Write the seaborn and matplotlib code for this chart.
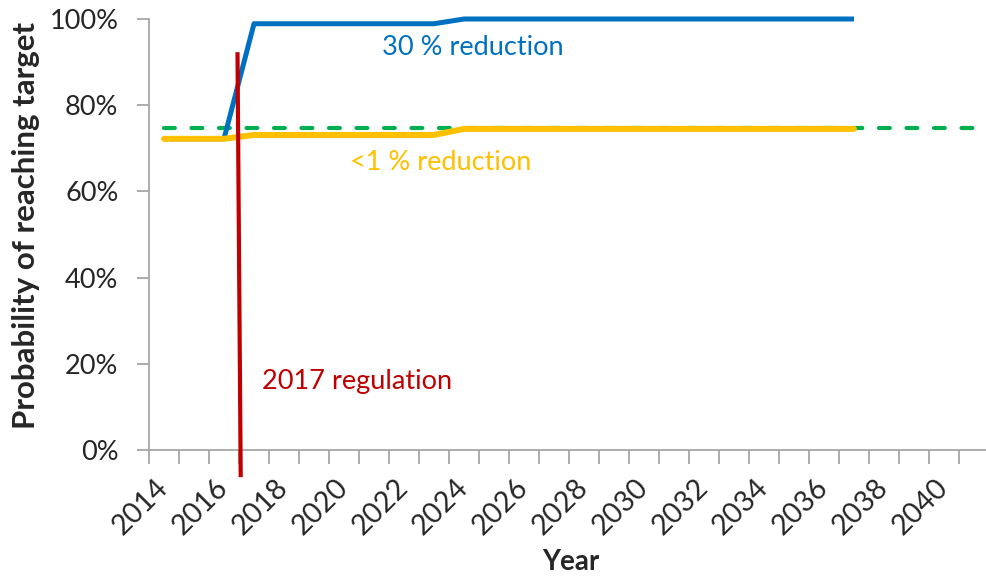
import matplotlib
matplotlib.use("Agg")
import matplotlib.pyplot as plt
import numpy as np
import pandas as pd
import seaborn as sns

# --- data -------------------------------------------------------------
years_30 = [2014, 2015, 2016, 2017, 2018, 2019, 2020, 2021, 2022, 2023,
            2024, 2025, 2026, 2027, 2028, 2029, 2030, 2031, 2032, 2033,
            2034, 2035, 2036, 2037]
prob_30 = [0.722, 0.722, 0.722, 0.989, 0.989, 0.989, 0.989, 0.989, 0.989, 0.989,
           1.000, 1.000, 1.000, 1.000, 1.000, 1.000, 1.000, 1.000, 1.000, 1.000,
           1.000, 1.000, 1.000, 1.000]

years_1 = years_30
prob_1 = [0.722, 0.722, 0.722, 0.731, 0.731, 0.731, 0.731, 0.731, 0.731, 0.731,
          0.745, 0.745, 0.745, 0.745, 0.745, 0.745, 0.745, 0.745, 0.745, 0.745,
          0.745, 0.745, 0.745, 0.745]

target_years = [2014, 2041]
target_level = [0.747, 0.747]

regulation_x = [2016.45, 2016.557]
regulation_y = [0.923, -0.063]

year_labels = list(range(2014, 2041, 2))
pct_ticks = [0.0, 0.2, 0.4, 0.6, 0.8, 1.0]
pct_labels = ["0%", "20%", "40%", "60%", "80%", "100%"]

# --- style ------------------------------------------------------------
sns.set_style("white")
plt.rcParams["font.family"] = ["Lato", "DejaVu Sans"]

BLUE = "#0070C0"
YELLOW = "#FFC000"
GREEN = "#00B050"
RED = "#C00000"
AXIS_GREY = "#A6A6A6"
FS = 19.5

fig = plt.figure(figsize=(9.87, 5.76), dpi=100)
ax = fig.add_axes([149 / 987, 126 / 576, 840 / 987, 431 / 576])

df30 = pd.DataFrame({"year": years_30, "p": prob_30})
df1 = pd.DataFrame({"year": years_1, "p": prob_1})
dft = pd.DataFrame({"year": target_years, "p": target_level})

sns.lineplot(data=dft, x="year", y="p", ax=ax, color=GREEN, linewidth=3.0,
             zorder=2)
ax.lines[-1].set_dashes([2.6, 4.0])
ax.lines[-1].set_dash_capstyle("round")
ax.lines[-1].set_clip_on(False)

sns.lineplot(data=df30, x="year", y="p", ax=ax, color=BLUE, linewidth=3.6,
             zorder=3)
ax.lines[-1].set_clip_on(False)
ax.lines[-1].set_solid_capstyle("butt")

sns.lineplot(data=df1, x="year", y="p", ax=ax, color=YELLOW, linewidth=4.3,
             zorder=4)
ax.lines[-1].set_clip_on(False)
ax.lines[-1].set_solid_capstyle("round")

ax.plot(regulation_x, regulation_y, color=RED, linewidth=3.0, zorder=5,
        clip_on=False, solid_capstyle="butt")

# --- annotations ------------------------------------------------------
ax.text(2024.3, 0.935, "30 % reduction", color=BLUE, fontsize=FS,
        ha="center", va="center")
ax.text(2023.23, 0.666, "<1 % reduction", color=YELLOW, fontsize=FS,
        ha="center", va="center")
ax.text(2020.43, 0.16, "2017 regulation", color=RED, fontsize=FS,
        ha="center", va="center")

# --- axes -------------------------------------------------------------
ax.set_xlim(2013.5, 2041.5)
ax.set_ylim(0, 1)

ax.set_yticks(pct_ticks)
ax.set_yticklabels(pct_labels)
ax.tick_params(axis="y", left=True, direction="out", length=9, width=1.3,
               color=AXIS_GREY, labelsize=FS, pad=13)

ax.set_xticks(year_labels)
ax.set_xticklabels([str(y) for y in year_labels])
ax.set_xticks(np.arange(2013.5, 2042.0, 1.0), minor=True)
ax.tick_params(axis="x", which="major", bottom=True, length=0,
               labelsize=20.5, pad=24)
ax.tick_params(axis="x", which="minor", bottom=True, direction="out",
               length=10, width=1.3, color=AXIS_GREY)
for lbl in ax.get_xticklabels():
    lbl.set_rotation(45)
    lbl.set_ha("right")
    lbl.set_va("center")
    lbl.set_rotation_mode("anchor")

for side in ("top", "right"):
    ax.spines[side].set_visible(False)
for side in ("left", "bottom"):
    ax.spines[side].set_color(AXIS_GREY)
    ax.spines[side].set_linewidth(1.3)

ax.set_xlabel("")
ax.set_ylabel("")
fig.text(26 / 987, 1 - 225 / 576, "Probability of reaching target",
         rotation=90, ha="center", va="center", fontsize=22.5,
         fontweight="bold")
fig.text(571 / 987, 1 - 562 / 576, "Year", ha="center", va="center",
         fontsize=20, fontweight="bold")

fig.savefig("out.png", dpi=100)
